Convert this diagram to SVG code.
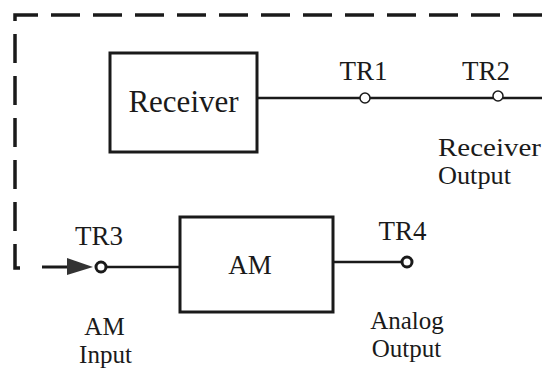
<svg xmlns="http://www.w3.org/2000/svg" width="542" height="373" viewBox="0 0 542 373">
<style>
text{font-family:'Liberation Serif','Times New Roman',serif;fill:#1a1a1a;}
.lbl{font-size:27px;}
.sub{font-size:25px;}
.box{fill:#fff;stroke:#1a1a1a;stroke-width:3;}
.wire{fill:none;stroke:#1a1a1a;stroke-width:2.5;}
.dash{fill:none;stroke:#1a1a1a;stroke-width:3.5;stroke-dasharray:29 13;}
.tp{fill:#fff;stroke:#1a1a1a;stroke-width:1.5;}
.tpb{fill:#fff;stroke:#1a1a1a;stroke-width:3;}
</style>
<rect width="542" height="373" fill="#fff"/>
<g id="connectors">
<path class="dash" d="M542,15 H15 V268 H27"/>
<path class="wire" d="M42,267 H68" style="stroke-width:3"/>
<polygon points="67,258 93,267 67,275" fill="#333"/>
<path class="wire" d="M257,98 H542"/>
<path class="wire" d="M107,267 H180"/>
<path class="wire" d="M333,262 H402"/>
</g>
<g id="receiver">
<rect class="box" x="110" y="53" width="147" height="99"/>
<text x="183.5" y="112" font-size="31" text-anchor="middle">Receiver</text>
</g>
<g id="am">
<rect class="box" x="180" y="217" width="153" height="95"/>
<text x="250" y="274" class="lbl" text-anchor="middle">AM</text>
</g>
<g id="tr1">
<circle class="tp" cx="365" cy="98" r="5"/>
<text class="lbl" x="363.5" y="80" text-anchor="middle">TR1</text>
</g>
<g id="tr2">
<circle class="tp" cx="498" cy="96" r="5"/>
<text class="lbl" x="486" y="80" text-anchor="middle">TR2</text>
<text class="sub" x="438" y="156" textLength="103" lengthAdjust="spacingAndGlyphs">Receiver</text>
<text class="sub" x="438" y="184" textLength="73" lengthAdjust="spacingAndGlyphs">Output</text>
</g>
<g id="tr3">
<circle class="tpb" cx="101" cy="267" r="5"/>
<text class="lbl" x="99" y="245" text-anchor="middle">TR3</text>
<text class="sub" x="104.5" y="335" text-anchor="middle">AM</text>
<text class="sub" x="105.5" y="363" text-anchor="middle">Input</text>
</g>
<g id="tr4">
<circle class="tpb" cx="407" cy="262" r="5"/>
<text class="lbl" x="402.5" y="240" text-anchor="middle">TR4</text>
<text class="sub" x="407" y="329" text-anchor="middle">Analog</text>
<text class="sub" x="406.5" y="357" text-anchor="middle">Output</text>
</g>
</svg>
